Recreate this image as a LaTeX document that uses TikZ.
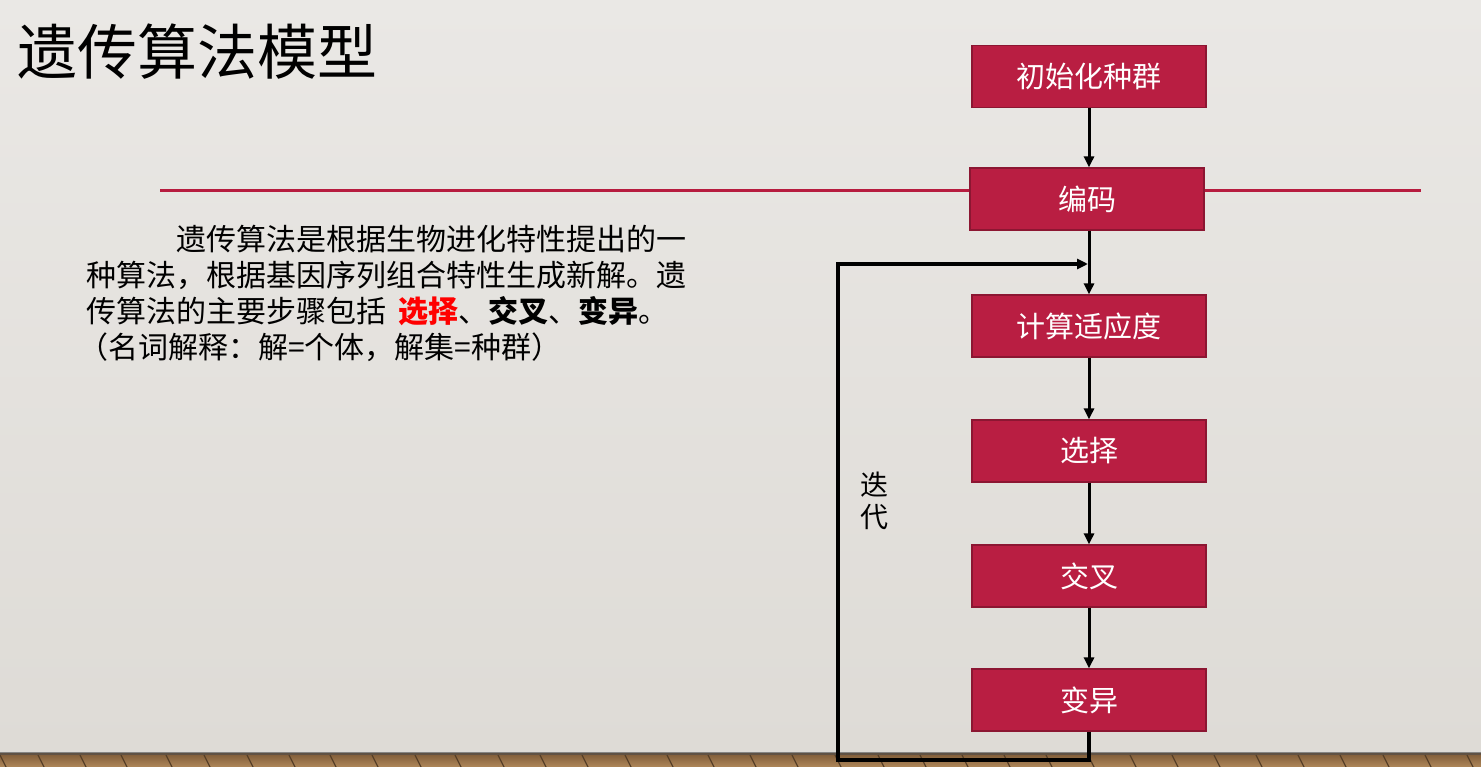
\documentclass[tikz,border=0pt]{standalone}
\usepackage{fontspec}
\newfontfamily\cjk{Noto Sans CJK SC}
\usetikzlibrary{arrows.meta}
\definecolor{boxred}{RGB}{185,30,66}
\definecolor{boxedge}{RGB}{140,22,50}
\definecolor{linered}{RGB}{183,28,63}
\definecolor{bgtop}{RGB}{234,232,229}
\definecolor{bgbot}{RGB}{222,219,214}
\definecolor{woodA}{RGB}{175,135,90}
\definecolor{woodB}{RGB}{125,90,55}
\definecolor{textred}{RGB}{255,0,0}
\begin{document}
\begin{tikzpicture}[x=1pt,y=-1pt,
  stepbox/.style={draw=boxedge,line width=1.2pt,fill=boxred,minimum width=234pt,minimum height=62pt,inner sep=0pt,text=white,font=\cjk\fontsize{29}{29}\selectfont},
  flow/.style={line width=3pt,-{Triangle[length=11pt,width=10pt]}},
  para/.style={inner sep=0pt,anchor=base west,font=\cjk\fontsize{30}{30}\selectfont}]
\useasboundingbox (0,0) rectangle (1481,767);
% background
\shade[top color=bgtop,bottom color=bgbot] (0,0) rectangle (1481,753);
% floor
\shade[top color=woodB,bottom color=woodA] (0,753) rectangle (1481,767);
\foreach \x in {0,38,80,121,166,204,247,289,330,372,415,455,498,540,582,625,667,708,750,792,835,878,920,962,1004,1046,1088,1130,1172,1214,1256,1298,1340,1383,1425,1467}
  \draw[woodB!70!black,line width=1.2pt] (\x,755) -- (\x+6,767);
\fill[black!70,opacity=0.6] (0,752) rectangle (1481,755);
% title
\node[inner sep=0pt,anchor=base west,font=\cjk\fontsize{60}{60}\selectfont] (title) at (17,75) {遗传算法模型};
% red rule
\coordinate (rl) at (160,191);
\coordinate (rr) at (1421,191);
\draw[linered,line width=3pt] (rl) -- (rr);
% paragraph
\node[para] (p1) at (176,251) {遗传算法是根据生物进化特性提出的一};
\node[para] (p2) at (86,287) {种算法，根据基因序列组合特性生成新解。遗};
\node[para] (p3) at (86,323) {传算法的主要步骤包括\hspace{12pt}{\bfseries\color{textred}选择}、{\bfseries 交叉}、{\bfseries 变异}。};
\node[para] (p4) at (78,359) {（名词解释：解=个体，解集=种群）};
% boxes
\node[stepbox] (b1) at (1089,76.5) {初始化种群};
\node[stepbox] (b2) at (1087,199) {编码};
\node[stepbox] (b3) at (1089,326) {计算适应度};
\node[stepbox] (b4) at (1089,451) {选择};
\node[stepbox] (b5) at (1089,576) {交叉};
\node[stepbox] (b6) at (1089,700) {变异};
% arrows
\draw[flow] (b1.south) -- (b1.south |- b2.north);
\draw[flow] (b1.south |- b2.south) -- (b3.north);
\draw[flow] (b3.south) -- (b4.north);
\draw[flow] (b4.south) -- (b5.north);
\draw[flow] (b5.south) -- (b6.north);
% loop
\coordinate (lb) at (1089,760);
\coordinate (ll) at (838,760);
\coordinate (lt) at (838,264);
\coordinate (j) at (1088,264);
\draw[line width=3.4pt,-{Triangle[length=11pt,width=10pt]}] (b6.south) -- (lb) -- (ll) -- (lt) -- (j);
% label
\node[inner sep=0pt,font=\cjk\fontsize{28}{32}\selectfont,align=center] (lab) at (874,501) {迭\\代};
\end{tikzpicture}
\end{document}
